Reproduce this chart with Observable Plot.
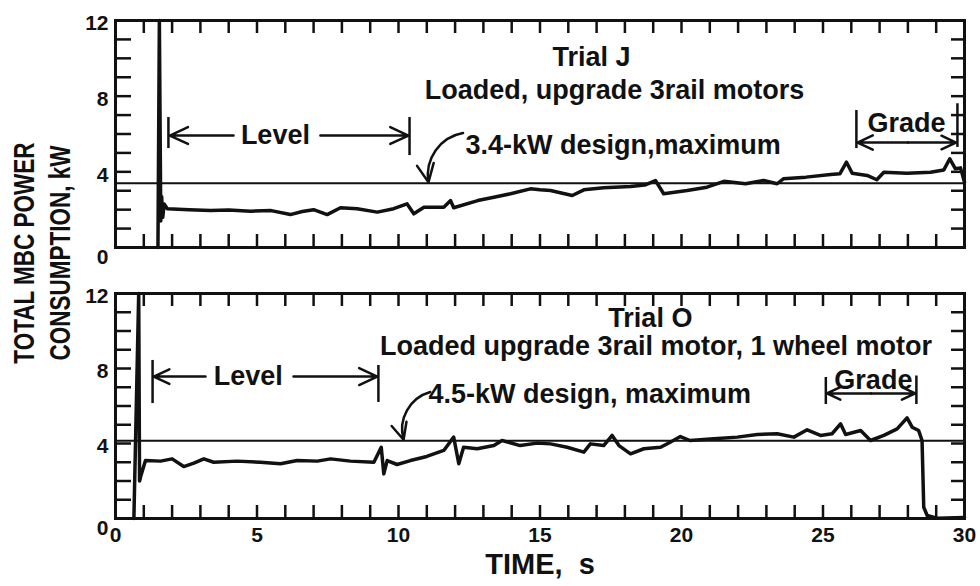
<!DOCTYPE html>
<html><head><meta charset="utf-8">
<script src="https://cdn.jsdelivr.net/npm/d3@7"></script>
<script src="https://cdn.jsdelivr.net/npm/@observablehq/plot@0.6"></script>
<style>
html,body{margin:0;padding:0;background:#fff;}
#wrap{position:relative;width:980px;height:586px;overflow:hidden;font-family:"Liberation Sans",Arial,sans-serif;font-weight:bold;color:#111;}
#top,#bot{position:absolute;left:0;}
#top{top:0;} #bot{top:270px;}
#ytitle{position:absolute;left:42px;top:253px;transform:translate(-50%,-50%) rotate(-90deg);white-space:nowrap;text-align:center;font-size:30px;line-height:36px;}
#ytitle span{display:block;transform:scaleX(0.75);}
</style></head><body>
<div id="wrap"><div id="top"></div><div id="bot"></div>
<div id="ytitle"><span>TOTAL MBC POWER</span><span>CONSUMPTION, kW</span></div></div>
<script>
// ---- ticks ----
const xLabels = [0, 5, 10, 15, 20, 25, 30];
const yLabels = [4, 8, 12];
const yZero = [0];
const xMinor = [0, 1, 2, 3, 4, 5, 6, 7, 8, 9, 10, 11, 12, 13, 14, 15, 16, 17, 18, 19, 20, 21, 22, 23, 24, 25, 26, 27, 28, 29, 30];
const yMinor = [0, 1, 2, 3, 4, 5, 6, 7, 8, 9, 10, 11, 12];

// ---- Trial J (top) ----
const tJ = [1.50, 1.55, 1.60, 1.63, 1.67, 1.72, 1.83, 2.6, 3.36, 4.0, 4.77, 5.5, 6.18, 6.6, 7.0, 7.48, 7.95, 8.54, 9.25, 9.83, 10.3, 10.54, 10.9, 11.6, 11.84, 11.95, 12.8, 13.37, 13.96, 14.66, 15.0, 15.37, 16.14, 16.55, 17.25, 18.2, 18.7, 19.08, 19.37, 20.2, 20.9, 21.5, 22.26, 22.9, 23.38, 23.6, 24.4, 25.27, 25.6, 25.83, 26.03, 26.56, 26.9, 27.15, 27.97, 28.8, 29.27, 29.48, 29.68, 29.86, 30.0];
const kwJ = [0, 12, 1.4, 2.7, 1.6, 2.3, 2.05, 2.0, 1.96, 1.98, 1.92, 1.95, 1.74, 1.9, 2.0, 1.74, 2.10, 2.05, 1.87, 2.05, 2.31, 1.78, 2.13, 2.13, 2.48, 2.1, 2.48, 2.66, 2.84, 3.1, 3.05, 3.01, 2.75, 3.05, 3.16, 3.22, 3.3, 3.54, 2.84, 3.01, 3.19, 3.50, 3.37, 3.54, 3.37, 3.63, 3.72, 3.86, 3.9, 4.51, 3.93, 3.81, 3.58, 3.98, 3.93, 3.98, 4.1, 4.69, 4.16, 4.21, 3.45];
const designJ = [3.4];
const barsJ = [{x: 1.87, y1: 5.23, y2: 6.87}, {x: 10.39, y1: 4.86, y2: 6.87}, {x: 26.18, y1: 5.23, y2: 7.24}, {x: 29.75, y1: 5.29, y2: 7.6}];
const arrowsJ = [{x1: 4.17, x2: 1.92, y: 5.92}, {x1: 7.24, x2: 10.35, y: 5.92}, {x1: 28.0, x2: 26.22, y: 5.55}, {x1: 28.0, x2: 29.7, y: 5.55}];
const pointerJ = [{x1: 12.28, y1: 6.05, x2: 11.06, y2: 3.45}];
const titlesJ = [
  {x: 16.82, y: 10.04, text: "Trial J"},
  {x: 17.63, y: 8.3, text: "Loaded, upgrade 3rail motors"},
  {x: 5.65, y: 5.92, text: "Level"},
  {x: 27.95, y: 6.55, text: "Grade"}
];
const notesJ = [{x: 12.37, y: 5.39, text: "3.4-kW design,maximum"}];

// ---- Trial O (bottom) ----
const tO = [0.65, 0.82, 0.85, 0.9, 1.06, 1.59, 2.0, 2.41, 2.77, 3.12, 3.47, 4.3, 5.12, 5.83, 6.42, 7.13, 7.6, 8.3, 9.13, 9.39, 9.48, 9.6, 9.95, 10.42, 11.0, 11.6, 11.95, 12.13, 12.3, 12.78, 13.37, 13.66, 14.3, 14.9, 15.37, 15.96, 16.55, 16.78, 17.25, 17.55, 17.79, 18.2, 18.67, 19.26, 19.6, 19.96, 20.3, 21.14, 21.97, 22.68, 23.38, 23.97, 24.44, 24.91, 25.32, 25.62, 25.8, 26.33, 26.68, 27.15, 27.62, 27.97, 28.15, 28.38, 28.5, 28.56, 28.68, 29.03, 30.0];
const kwO = [0, 12, 2.0, 2.3, 3.09, 3.06, 3.18, 2.77, 2.95, 3.18, 3.0, 3.06, 3.0, 2.92, 3.09, 3.06, 3.18, 3.06, 3.0, 3.8, 2.38, 3.09, 2.88, 3.09, 3.31, 3.63, 4.34, 2.92, 3.8, 3.72, 3.89, 4.16, 3.89, 4.02, 3.98, 3.8, 3.54, 3.98, 3.89, 4.43, 3.89, 3.45, 3.72, 3.8, 4.07, 4.37, 4.16, 4.25, 4.34, 4.48, 4.52, 4.34, 4.73, 4.43, 4.52, 5.05, 4.48, 4.69, 4.16, 4.43, 4.78, 5.37, 4.87, 4.69, 4.16, 0.6, 0.16, 0.02, 0.05];
const designO = [4.15];
const barsO = [{x: 1.31, y1: 6.13, y2: 8.43}, {x: 9.29, y1: 6.19, y2: 8.16}, {x: 25.1, y1: 6.08, y2: 7.52}, {x: 28.3, y1: 6.08, y2: 7.6}];
const arrowsO = [{x1: 3.18, x2: 1.35, y: 7.57}, {x1: 6.29, x2: 9.25, y: 7.57}, {x1: 26.7, x2: 25.14, y: 6.67}, {x1: 26.7, x2: 28.26, y: 6.67}];
const pointerO = [{x1: 11.12, y1: 6.75, x2: 10.18, y2: 4.2}];
const titlesO = [
  {x: 18.9, y: 10.67, text: "Trial O"},
  {x: 19.1, y: 9.17, text: "Loaded upgrade 3rail motor, 1 wheel motor"},
  {x: 4.69, y: 7.57, text: "Level"},
  {x: 26.78, y: 7.36, text: "Grade"}
];
const notesO = [{x: 11.06, y: 6.61, text: "4.5-kW design, maximum"}];

const INK = "#111";
const FONT = "Liberation Sans, Arial, sans-serif";
const ML = 115, MR = 16, W = 980;

function panel({t, kw, design, bars, arrows, pointer, titles, notes, height, marginTop, marginBottom, showX}) {
  const series = t.map((v, i) => ({t: v, kw: kw[i]}));
  const H = height - marginTop - marginBottom;
  const FW = W - ML - MR;
  // tick lengths converted from pixels to data units of each scale
  const tx = px => px * 30 / FW;
  const ty = px => px * 12 / H;
  const xTickRows = xMinor.map(v => ({x: v}));
  const yTickRows = yMinor.map(v => ({y: v}));
  const marks = [
    // inward minor ticks on all four sides
    Plot.ruleX(xTickRows, {x: "x", y1: 0, y2: ty(13), stroke: INK, strokeWidth: 2.5}),
    Plot.ruleX(xTickRows, {x: "x", y1: 12, y2: 12 - ty(13), stroke: INK, strokeWidth: 2.5}),
    Plot.ruleY(yTickRows, {y: "y", x1: 0, x2: tx(16), stroke: INK, strokeWidth: 2.5}),
    Plot.ruleY(yTickRows, {y: "y", x1: 30, x2: 30 - tx(13), stroke: INK, strokeWidth: 2.5}),
    Plot.axisY(yLabels, {anchor: "left", tickSize: 0, tickPadding: 7, dy: 3, fontSize: 21, fontWeight: "bold", fill: INK, label: null}),
    Plot.axisY(yZero, {anchor: "left", tickSize: 0, tickPadding: 7, dy: 10, fontSize: 21, fontWeight: "bold", fill: INK, label: null}),
    Plot.ruleY(design, {stroke: INK, strokeWidth: 2}),
    Plot.line(series, {x: "t", y: "kw", stroke: INK, strokeWidth: 3.5, strokeLinejoin: "round", strokeLinecap: "round"}),
    Plot.ruleX(bars, {x: "x", y1: "y1", y2: "y2", stroke: INK, strokeWidth: 2.5}),
    Plot.arrow(arrows, {x1: "x1", y1: "y", x2: "x2", y2: "y", stroke: INK, strokeWidth: 2.5, headLength: 12, headAngle: 50}),
    Plot.arrow(pointer, {x1: "x1", y1: "y1", x2: "x2", y2: "y2", bend: -45, stroke: INK, strokeWidth: 2.5, headLength: 12, headAngle: 50}),
    Plot.text(titles, {x: "x", y: "y", text: "text", textAnchor: "middle", fontSize: 27, fontWeight: "bold", fill: INK}),
    Plot.text(notes, {x: "x", y: "y", text: "text", textAnchor: "start", fontSize: 27, fontWeight: "bold", fill: INK}),
    Plot.frame({stroke: INK, strokeWidth: 3})
  ];
  if (showX) {
    marks.push(Plot.axisX(xLabels, {anchor: "bottom", tickSize: 0, tickPadding: 9, fontSize: 21, fontWeight: "bold", fill: INK, label: null}));
    marks.push(Plot.text(["TIME,\u00a0 s"], {frameAnchor: "bottom", dy: 55, fontSize: 29, fontWeight: "bold", fill: INK}));
  }
  return Plot.plot({
    width: W, height, marginTop, marginBottom, marginLeft: ML, marginRight: MR,
    x: {domain: [0, 30], axis: null},
    y: {domain: [0, 12], axis: null},
    style: {fontFamily: FONT, fontWeight: "bold", background: "#fff", color: INK, overflow: "visible"},
    marks
  });
}

document.getElementById("top").append(panel({t: tJ, kw: kwJ, design: designJ, bars: barsJ, arrows: arrowsJ, pointer: pointerJ, titles: titlesJ, notes: notesJ, height: 270, marginTop: 20, marginBottom: 23, showX: false}));
document.getElementById("bot").append(panel({t: tO, kw: kwO, design: designO, bars: barsO, arrows: arrowsO, pointer: pointerO, titles: titlesO, notes: notesO, height: 316, marginTop: 23, marginBottom: 68, showX: true}));
</script>
</body></html>
